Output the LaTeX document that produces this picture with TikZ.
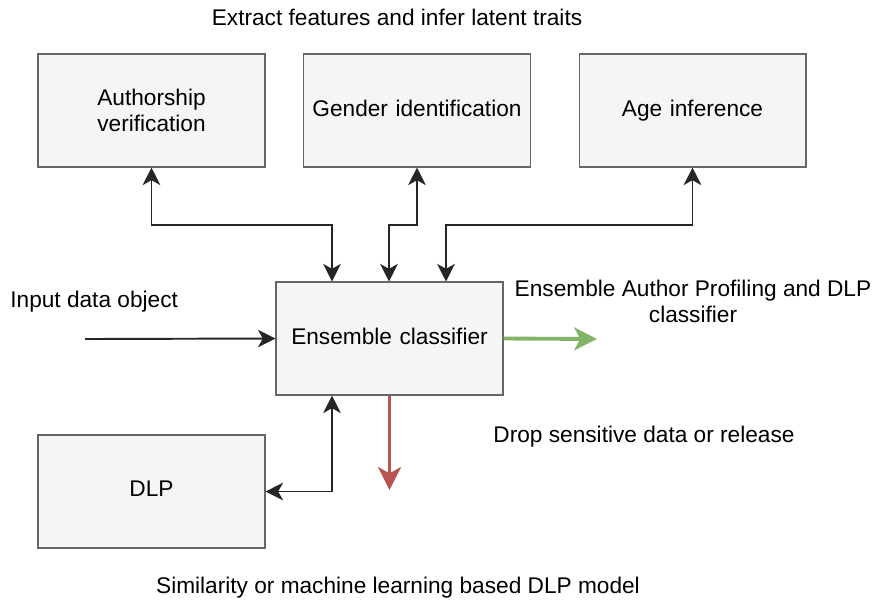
\documentclass[tikz,border=0pt]{standalone}
\usepackage{fontspec}
\setmainfont{Liberation Sans}
\usetikzlibrary{arrows.meta, positioning, calc}

\definecolor{boxfill}{HTML}{F5F5F5}
\definecolor{boxdraw}{HTML}{666666}
\definecolor{okgreen}{HTML}{82B366}
\definecolor{dropred}{HTML}{B85450}

\begin{document}
\begin{tikzpicture}[
    x=0.02cm, y=-0.02cm,
    % Node styles
    block/.style={
        rectangle, minimum width=4.54cm, minimum height=2.26cm,
        text width=4.2cm, align=center,
        font=\fontsize{12.9pt}{14.8pt}\selectfont,
        draw=boxdraw, line width=0.6pt, fill=boxfill,
    },
    note/.style={
        font=\fontsize{12.9pt}{14.8pt}\selectfont, inner sep=0pt,
    },
    line/.style={
        draw=black!85, line width=1.1pt, -{Stealth[length=10pt, width=10pt, inset=2.8pt]},
    },
    biline/.style={
        line, {Stealth[length=10pt, width=10pt, inset=2.8pt]}-{Stealth[length=10pt, width=10pt, inset=2.8pt]},
    },
    fatline/.style={
        draw=#1, line width=2.2pt, -{Stealth[length=13pt, width=13pt, inset=3.5pt]},
    },
]
\useasboundingbox (0,0) rectangle (872,600);

% === Trait extractors ===
\node[block] (auth) at (151.5,110.5) {Authorship\\verification};
\node[block] (gend) at (417,110.5)   {Gender identification\vphantom{Ay}};
\node[block] (age)  at (692.5,110.5) {Age inference\vphantom{Ay}};

% === Classifier and DLP model ===
\node[block] (ens) at (389.5,338.5) {Ensemble classifier\vphantom{Ay}};
\node[block] (dlp) at (151.5,491.5) {DLP\vphantom{Ay}};

% === Texts ===
\node[note] (title)   at (397,17)  {Extract features and infer latent traits};
\node[note, anchor=west] (input) at (10,302) {Input data object};
\node[note, align=center] (result) at (693,301) {Ensemble Author Profiling and DLP\\classifier};
\node[note] (drop)    at (644,437) {Drop sensitive data or release};
\node[note] (model)   at (398,588) {Similarity or machine learning based DLP model};

% === Bends and free ends ===
\coordinate (busA) at (332,225);
\coordinate (busB) at (389,225);
\coordinate (busC) at (446,225);
\coordinate (src)  at (85,339);
\coordinate (outR) at (597,339);
\coordinate (outD) at (389.5,490);

% === Edges: extractors to classifier ===
\draw[biline] (auth.south) |- (busA) -- (busA |- ens.north);
\draw[biline] (gend.south) |- (busB) -- (busB |- ens.north);
\draw[biline] (age.south)  |- (busC) -- (busC |- ens.north);

% === Edges: input, outputs, DLP ===
\draw[line] (src) -- (ens.west);
\draw[fatline=okgreen] (ens.east) -- (outR);
\draw[fatline=dropred] (ens.south) -- (outD);
\draw[biline] (busA |- ens.south) |- (dlp.east);

\end{tikzpicture}
\end{document}
